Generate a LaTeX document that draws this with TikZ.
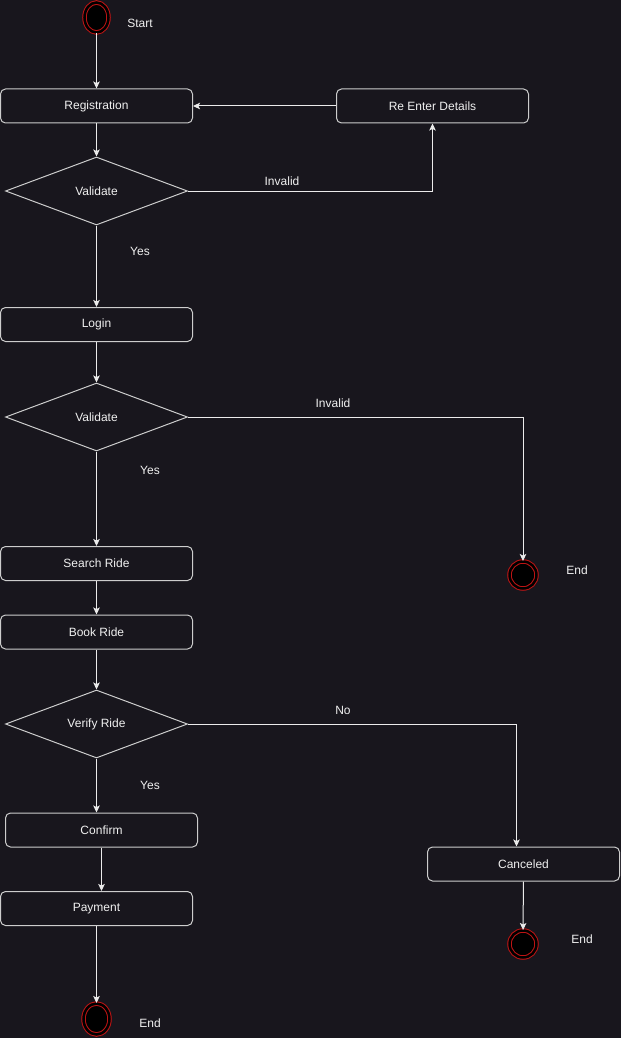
\documentclass[tikz,border=0pt]{standalone}
\usepackage{fontspec}
\setmainfont{Liberation Sans}
\usepackage{tikz}
\usetikzlibrary{arrows.meta}
\usetikzlibrary{shapes.geometric}
\usetikzlibrary{positioning}
\definecolor{bgcol}{RGB}{24,22,29}
\definecolor{edgecol}{RGB}{205,205,205}
\definecolor{linecol}{RGB}{235,235,235}
\definecolor{txtcol}{RGB}{240,240,240}
\definecolor{ringcol}{RGB}{190,20,20}
\tikzset{box/.style = {draw = edgecol, rounded corners = 5, minimum width = 192,
                       minimum height = 34, inner sep = 0, text = txtcol}}
\tikzset{dec/.style = {draw = edgecol, diamond, aspect = 2.68, minimum width = 182,
                       minimum height = 68, inner sep = 0, text = txtcol}}
\tikzset{term/.style = {ellipse, draw = ringcol, fill = black, double = black,
                        double distance = 2.5, inner sep = 0}}
\tikzset{lbl/.style = {text = txtcol}}
\tikzset{flow/.style = {draw = linecol, -{Stealth[length = 7, width = 6.5, inset = 1.5]}}}

\begin{document}
\begin{tikzpicture}[x = 1pt, y = -1pt, line width = 1, font = \fontsize{12}{14}\selectfont]
    \fill [bgcol] (0, 0) rectangle (621, 1038);
    \useasboundingbox (0, 0) rectangle (621, 1038);
    % main column
    \node (start) at (96.5, 17.5) [term, minimum width = 24, minimum height = 30] {};
    \node (startlbl) at (140, 23) [lbl] {Start};
    \node (reg) at (96.5, 106) [box] {Registration};
    \node (reenter) at (432.5, 106) [box] {Re Enter Details};
    \node (val1) at (96.5, 191) [dec] {Validate};
    \node (login) at (96.5, 324.5) [box] {Login};
    \node (val2) at (96.5, 417) [dec] {Validate};
    \node (search) at (96.5, 563.5) [box] {Search Ride};
    \node (book) at (96.5, 632) [box] {Book Ride};
    \node (verify) at (96.5, 724) [dec] {Verify Ride};
    \node (confirm) at (101.5, 830) [box] {Confirm};
    \node (payment) at (96.5, 908.5) [box] {Payment};
    \node (end3) at (96.5, 1019) [term, minimum width = 26, minimum height = 31] {};
    \node (end3lbl) at (150, 1023) [lbl] {End};
    % right side
    \node (end1) at (523, 575) [term, minimum width = 27, minimum height = 27] {};
    \node (end1lbl) at (577, 570) [lbl] {End};
    \node (cancel) at (523.5, 864) [box] {Canceled};
    \node (end2) at (523, 944) [term, minimum width = 27, minimum height = 27] {};
    \node (end2lbl) at (582, 939) [lbl] {End};
    % connectors
    \draw [flow] (start) -- (reg);
    \draw [flow] (reg) -- (val1);
    \draw [flow] (val1.east) -| (reenter.south);
    \draw [flow] (reenter) -- (reg);
    \draw [flow] (val1) -- (login);
    \draw [flow] (login) -- (val2);
    \draw [flow] (val2.east) -| (end1.north);
    \draw [flow] (val2) -- (search);
    \draw [flow] (search) -- (book);
    \draw [flow] (book) -- (verify);
    \draw [flow] (verify.east) -| ([xshift = -7]cancel.north);
    \draw [flow] (verify.south) -- (verify.south |- confirm.north);
    \draw [flow] (confirm.south) -- (confirm.south |- payment.north);
    \draw [flow] (payment) -- (end3);
    \draw [flow] (cancel) -- (end2);
    % labels
    \node (inv1) at (282, 181) [lbl] {Invalid};
    \node (yes1) at (140, 251) [lbl] {Yes};
    \node (inv2) at (333, 403) [lbl] {Invalid};
    \node (yes2) at (150, 470) [lbl] {Yes};
    \node (no1) at (343, 710) [lbl] {No};
    \node (yes3) at (150, 785) [lbl] {Yes};
  \end{tikzpicture}
\end{document}
